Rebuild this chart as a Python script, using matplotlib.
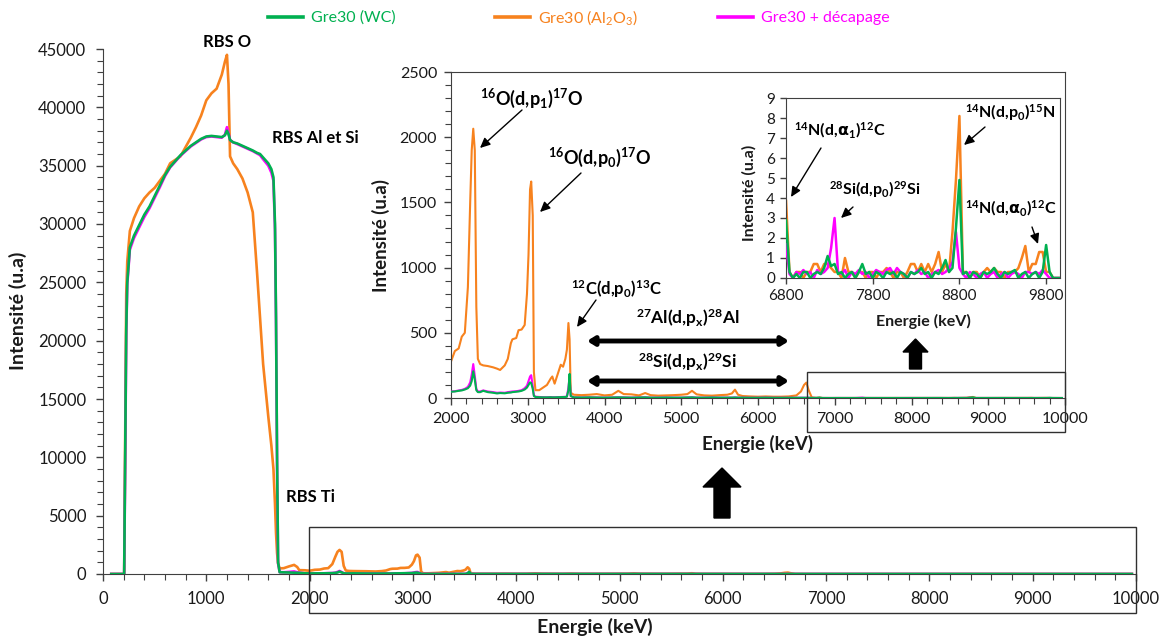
import matplotlib
matplotlib.use('Agg')
import matplotlib.pyplot as plt
from matplotlib.patches import Rectangle, FancyArrow, FancyArrowPatch
from matplotlib.lines import Line2D
from matplotlib.ticker import MultipleLocator, FixedLocator
import numpy as np

plt.rcParams['font.family'] = ['Lato', 'DejaVu Sans']
plt.rcParams['mathtext.default'] = 'regular'
plt.rcParams['mathtext.fontset'] = 'dejavusans'

# ---------------- data ----------------
series_names = ['Gre30 (WC)', 'Gre30 (Al$_2$O$_3$)', 'Gre30 + décapage']
series_colors = ['#00B050', '#F7821E', '#FF00FF']

# RBS region (keV)
energy_rbs = [80, 205, 215, 225, 235, 260, 300, 350, 400, 450, 500, 550, 600, 650, 700,
              750, 800, 850, 900, 950, 1000, 1050, 1100, 1150, 1180, 1200, 1215, 1230, 1260,
              1300, 1350, 1400, 1450, 1490, 1520, 1550, 1600, 1630, 1650, 1665, 1675, 1685,
              1695, 1710, 1750, 1800, 1850, 1880, 1900, 1950]
wc_rbs = [0, 0, 10000, 21000, 25000, 28000, 29000, 29900, 30800, 31500, 32400, 33300, 34200,
          34900, 35400, 35900, 36300, 36700, 37000, 37300, 37500, 37550, 37500, 37450, 37600,
          38000, 37700, 37200, 37000, 36900, 36700, 36500, 36300, 36100, 36000, 35700, 35200,
          34700, 34000, 30000, 22000, 10000, 1000, 150, 140, 130, 120, 110, 100, 60]
al2o3_rbs = [0, 0, 12000, 24000, 26800, 29400, 30500, 31500, 32200, 32700, 33100, 33700, 34300,
             35200, 35500, 35800, 36600, 37400, 38300, 39300, 40600, 41200, 41600, 42800, 43900,
             44500, 42000, 35800, 35200, 34700, 33900, 32700, 31000, 26000, 22000, 18000, 13500,
             11000, 9000, 6000, 3500, 1800, 900, 480, 500, 650, 780, 600, 330, 320]
dec_rbs = [0, 0, 9500, 20500, 24800, 27800, 28800, 29700, 30600, 31350, 32250, 33150, 34100,
           34850, 35350, 35850, 36250, 36650, 36950, 37250, 37450, 37500, 37450, 37400, 37650,
           38300, 37800, 37200, 37000, 36850, 36650, 36450, 36250, 36050, 35900, 35550, 35000,
           34400, 33700, 29500, 21500, 9500, 900, 160, 150, 180, 220, 150, 110, 60]

# nuclear reaction region (keV)
energy_mid = [2000, 2050, 2100, 2140, 2180, 2220, 2250, 2270, 2290, 2310,
              2330, 2350, 2380, 2420, 2480, 2550, 2600, 2640, 2700, 2740,
              2780, 2800, 2850, 2880, 2920, 2960, 2990, 3010, 3030, 3045,
              3065, 3080, 3100, 3150, 3200, 3250, 3300, 3320, 3350, 3400,
              3430, 3460, 3490, 3510, 3530, 3545, 3560, 3600, 3700, 3800,
              3900, 4000, 4100, 4180, 4250, 4350, 4450, 4530, 4600, 4700,
              4800, 4900, 5000, 5080, 5140, 5200, 5300, 5400, 5500, 5600,
              5660, 5700, 5740, 5800, 5900, 6000, 6100, 6200, 6300, 6400,
              6500, 6560, 6600, 6630, 6660, 6700, 6760]
al2o3_mid = [280, 360, 380, 470, 500, 850, 1500, 1900, 2065, 1900,
             700, 300, 260, 250, 245, 235, 225, 215, 250, 300,
             420, 450, 460, 520, 525, 560, 800, 1100, 1600, 1660,
             1400, 200, 60, 60, 80, 100, 150, 165, 110, 200,
             255, 240, 300, 370, 575, 450, 40, 25, 22, 25,
             30, 20, 25, 55, 30, 28, 20, 38, 22, 18,
             20, 22, 25, 30, 55, 28, 20, 18, 22, 25,
             35, 64, 25, 15, 12, 10, 12, 10, 10, 12,
             20, 50, 100, 118, 60, 5, 1]
wc_mid = [48, 50, 55, 58, 65, 75, 95, 130, 205, 140,
          60, 45, 45, 55, 45, 40, 35, 38, 36, 40,
          42, 45, 48, 50, 55, 65, 80, 100, 120, 115,
          70, 15, 8, 6, 5, 5, 6, 5, 5, 6,
          6, 7, 8, 10, 60, 185, 15, 5, 4, 5,
          4, 3, 4, 5, 4, 3, 4, 5, 3, 3,
          4, 3, 3, 4, 5, 3, 3, 4, 3, 3,
          3, 4, 3, 3, 2, 2, 3, 2, 2, 2,
          2, 2, 2, 2, 2, 1, 1]
dec_mid = [50, 52, 58, 62, 70, 85, 120, 180, 260, 170,
           70, 50, 50, 58, 50, 45, 40, 42, 40, 45,
           48, 50, 52, 55, 60, 75, 95, 130, 165, 175,
           90, 20, 10, 8, 6, 6, 7, 6, 6, 7,
           7, 8, 9, 12, 80, 160, 15, 5, 4, 5,
           4, 3, 4, 5, 4, 3, 4, 5, 3, 3,
           4, 3, 3, 4, 5, 3, 3, 4, 3, 3,
           3, 4, 3, 3, 2, 2, 3, 2, 2, 2,
           2, 2, 2, 2, 2, 1, 1]

# high-energy region (keV)
energy_high = [6800, 6840, 6880, 6920, 6960, 7000, 7040, 7080, 7120, 7160,
               7200, 7240, 7280, 7320, 7360, 7400, 7440, 7480, 7520, 7560,
               7600, 7640, 7680, 7720, 7760, 7800, 7840, 7880, 7920, 7960,
               8000, 8040, 8080, 8120, 8160, 8200, 8240, 8280, 8320, 8360,
               8400, 8440, 8480, 8520, 8560, 8600, 8640, 8680, 8720, 8760,
               8800, 8840, 8880, 8920, 8960, 9000, 9040, 9080, 9120, 9160,
               9200, 9240, 9280, 9320, 9360, 9400, 9440, 9480, 9520, 9560,
               9600, 9640, 9680, 9720, 9760, 9800, 9840, 9880, 9920, 9960]
al2o3_high = [3.9, 0.3, 0, 0.3, 0.3, 0, 0.3, 0.3, 0.7, 0.7,
              0.3, 0.7, 0.7, 0.5, 0.3, 0.3, 0, 1.0, 0.3, 0.3,
              0, 0.3, 0.3, 0, 0.3, 0.3, 0, 0.3, 0.3, 0.5,
              0.3, 0, 0.3, 0.3, 0, 0.3, 0.7, 0.7, 0.3, 0.7,
              0.3, 0.7, 0.3, 0.7, 1.3, 0.3, 0.7, 0.3, 2.3, 4.9,
              8.1, 0.3, 0.3, 0, 0.3, 0.3, 0, 0.3, 0.5, 0.3,
              0.5, 0.3, 0.3, 0, 0.3, 0.3, 0.3, 0.5, 1.0, 1.6,
              0.3, 0.7, 0.7, 1.3, 1.3, 0.3, 0.3, 0, 0, 0]
wc_high = [2.9, 0.3, 0, 0.2, 0, 0.3, 0.3, 0, 0.2, 0.3,
           0.2, 0.5, 1.1, 0.6, 0.7, 0.2, 0.3, 0, 0.2, 0.3,
           0, 0.3, 0.7, 0.2, 0.3, 0, 0.3, 0.2, 0, 0.3,
           0.2, 0.3, 0, 0.3, 0.2, 0, 0.3, 0.2, 0.3, 0.5,
           0.2, 0.3, 0, 0.3, 0.2, 0.5, 0.9, 0.3, 0.5, 2.5,
           4.9, 0.2, 0.3, 0, 0.3, 0.2, 0, 0.3, 0.2, 0.3,
           0.5, 0.2, 0, 0.3, 0.2, 0.3, 0.4, 0, 0.2, 0.3,
           0, 0.2, 0.3, 0, 0.3, 1.65, 0.3, 0, 0, 0]
dec_high = [1.7, 0.2, 0, 0.3, 0.2, 0.4, 0.2, 0.3, 0, 0.4,
            0.2, 0.3, 0.5, 1.5, 3.0, 0.3, 0.2, 0.4, 0, 0.3,
            0.2, 0.4, 0.2, 0.3, 0, 0.2, 0.4, 0.3, 0.2, 0.4,
            0.5, 0.2, 0.5, 0.3, 0.2, 0, 0.3, 0.2, 0.4, 0.2,
            0.3, 0, 0.2, 0.3, 0.4, 0.2, 0.3, 0.5, 0.8, 2.3,
            0.5, 0.2, 0, 0.3, 0.2, 0, 0.2, 0.3, 0, 0.2,
            0.3, 0, 0.2, 0.3, 0, 0.2, 0.3, 0.2, 0, 0.3,
            0.3, 0.2, 0.3, 0.2, 0.4, 0.2, 0, 0, 0, 0]

energy = np.array(energy_rbs + energy_mid + energy_high, dtype=float)
wc = np.array(wc_rbs + wc_mid + wc_high, dtype=float)
al2o3 = np.array(al2o3_rbs + al2o3_mid + al2o3_high, dtype=float)
dec = np.array(dec_rbs + dec_mid + dec_high, dtype=float)
series_values = [wc, al2o3, dec]

# ---------------- layout helpers ----------------
W, H = 1160, 638
fig = plt.figure(figsize=(W / 100, H / 100), dpi=100)


def fx(px):
    return px / W


def fy(py):
    return 1 - py / H


def rect(l, t, r, b):
    return [fx(l), fy(b), (r - l) / W, (b - t) / H]


AXC = '#404040'
TXT = '#1a1a1a'

ax = fig.add_axes(rect(103, 49, 1136, 574))
ax1 = fig.add_axes(rect(451, 72, 1065, 398))
ax2 = fig.add_axes(rect(786, 98, 1060, 278))

draw_order = [1, 2, 0]  # orange, magenta, green on top
z_of = {1: 2, 2: 3, 0: 4}


def draw(a, lw):
    for k in draw_order:
        a.plot(energy, series_values[k], color=series_colors[k], lw=lw,
               solid_joinstyle='round', zorder=z_of[k])


draw(ax, 1.9)
draw(ax1, 1.5)
draw(ax2, 1.8)

# main axes
ax.set_xlim(0, 10000)
ax.set_ylim(0, 45000)
ax.xaxis.set_major_locator(MultipleLocator(1000))
ax.xaxis.set_minor_locator(MultipleLocator(200))
ax.yaxis.set_major_locator(MultipleLocator(5000))
ax.yaxis.set_minor_locator(MultipleLocator(1000))
for s in ('top', 'right'):
    ax.spines[s].set_visible(False)
for s in ('left', 'bottom'):
    ax.spines[s].set_color(AXC)
ax.tick_params(which='major', length=5, width=1, color=AXC, labelsize=12,
               labelcolor=TXT, pad=7)
ax.tick_params(which='minor', length=4, width=0.8, color=AXC)
ax.set_xlabel('Energie (keV)', fontsize=14, fontweight='bold', color=TXT)
ax.xaxis.set_label_coords((595 - 103) / 1033, (574 - 618) / 525)
ax.set_ylabel('Intensité (u.a)', fontsize=14, fontweight='bold', color=TXT)
ax.yaxis.set_label_coords((27 - 103) / 1033, (574 - 311) / 525)

# inset 1
ax1.set_xlim(2000, 10000)
ax1.set_ylim(0, 2500)
ax1.xaxis.set_major_locator(MultipleLocator(1000))
ax1.xaxis.set_minor_locator(MultipleLocator(200))
ax1.yaxis.set_major_locator(MultipleLocator(500))
ax1.yaxis.set_minor_locator(MultipleLocator(100))
for s in ax1.spines.values():
    s.set_color(AXC)
ax1.tick_params(which='major', length=5, width=1, color=AXC, labelsize=11.5,
                labelcolor=TXT, pad=5)
ax1.tick_params(which='minor', length=4, width=0.8, color=AXC)
ax1.set_xlabel('Energie (keV)', fontsize=13.5, fontweight='bold', color=TXT)
ax1.xaxis.set_label_coords(0.5, (398 - 435) / 326)
ax1.set_ylabel('Intensité (u.a)', fontsize=13.5, fontweight='bold', color=TXT)
ax1.yaxis.set_label_coords((390 - 451) / 614, 0.5)

# inset 2
ax2.set_xlim(6800, 9960)
ax2.set_ylim(0, 9)
ax2.xaxis.set_major_locator(FixedLocator([6800, 7800, 8800, 9800]))
ax2.yaxis.set_major_locator(MultipleLocator(1))
for s in ax2.spines.values():
    s.set_color(AXC)
ax2.tick_params(which='major', length=4, width=1, color=AXC, labelsize=11,
                labelcolor=TXT, pad=4)
ax2.set_xlabel('Energie (keV)', fontsize=11.5, fontweight='bold', color=TXT)
ax2.xaxis.set_label_coords(0.5, (278 - 314) / 180)
ax2.set_ylabel('Intensité (u.a)', fontsize=11.5, fontweight='bold', color=TXT)
ax2.yaxis.set_label_coords((757 - 786) / 274, (278 - 193) / 180)

# legend (one entry per block, spaced like the reference)
legend_x = [268, 495, 718]
for k in range(3):
    h = Line2D([], [], color=series_colors[k], lw=2.6)
    fig.legend([h], [series_names[k]], loc='center left',
               bbox_to_anchor=(fx(legend_x[k]), fy(18)), frameon=False,
               fontsize=11.5, handlelength=2.2, handletextpad=0.5, borderpad=0,
               borderaxespad=0, labelcolor=series_colors[k])


# text annotations
def label(txt, cx, cy, size):
    fig.text(fx(cx), fy(cy), txt, ha='center', va='center', fontsize=size,
             fontweight='bold', color='black')


def pointer(x0, y0, x1, y1):
    fig.add_artist(FancyArrowPatch(
        (fx(x0), fy(y0)), (fx(x1), fy(y1)), transform=fig.transFigure,
        arrowstyle='-|>,head_length=6,head_width=2.8', lw=1.0, color='black',
        shrinkA=0, shrinkB=0, zorder=6))


label('RBS O', 227, 42, 12)
label('RBS Al et Si', 315, 138, 12)
label('RBS Ti', 310, 497, 12)

label('$^{16}$O(d,p$_1$)$^{17}$O', 532, 98, 13)
pointer(522, 110, 480, 148)
label('$^{16}$O(d,p$_0$)$^{17}$O', 600, 157, 13)
pointer(581, 173, 540, 212)
label('$^{12}$C(d,p$_0$)$^{13}$C', 617, 289, 12)
pointer(596, 300, 577, 327)
label('$^{27}$Al(d,p$_x$)$^{28}$Al', 688, 318, 12.5)
label('$^{28}$Si(d,p$_x$)$^{29}$Si', 687, 362, 12.5)

label(r'$^{14}$N(d,$\mathbf{\alpha}_1$)$^{12}$C', 840, 130, 11.5)
pointer(821, 148, 791, 197)
label('$^{28}$Si(d,p$_0$)$^{29}$Si', 875, 190, 11.5)
pointer(853, 207, 841, 218)
label('$^{14}$N(d,p$_0$)$^{15}$N', 1010, 113, 11.5)
pointer(985, 127, 964, 145)
label(r'$^{14}$N(d,$\mathbf{\alpha}_0$)$^{12}$C', 1011, 208, 11.5)
pointer(1032, 227, 1038, 244)

# double arrows (energy ranges)
for yy in (341, 381):
    fig.add_artist(FancyArrowPatch(
        (fx(587), fy(yy)), (fx(789), fy(yy)), transform=fig.transFigure,
        arrowstyle='<|-|>,head_length=4,head_width=2.5', lw=3.5,
        color='black', shrinkA=0, shrinkB=0, zorder=6))


# block arrows
def block_arrow(cx, tail, tip, shaft, head_w, head_l):
    fig.add_artist(FancyArrow(cx / 100, (H - tail) / 100, 0, (tail - tip) / 100,
                              width=shaft / 100, head_width=head_w / 100,
                              head_length=head_l / 100, length_includes_head=True,
                              color='black', transform=fig.dpi_scale_trans, zorder=6))


block_arrow(722, 518, 468, 16, 38, 19)
block_arrow(915.5, 369, 339, 12, 25, 13)

# zoom rectangles
fig.add_artist(Rectangle((fx(309), fy(613)), (1136 - 309) / W, (613 - 527) / H,
                         transform=fig.transFigure, fill=False, ec='#303030', lw=1.0, zorder=6))
fig.add_artist(Rectangle((fx(807), fy(432)), (1065 - 807) / W, (432 - 372) / H,
                         transform=fig.transFigure, fill=False, ec='#303030', lw=1.0, zorder=6))

fig.savefig('out.png', dpi=100)
